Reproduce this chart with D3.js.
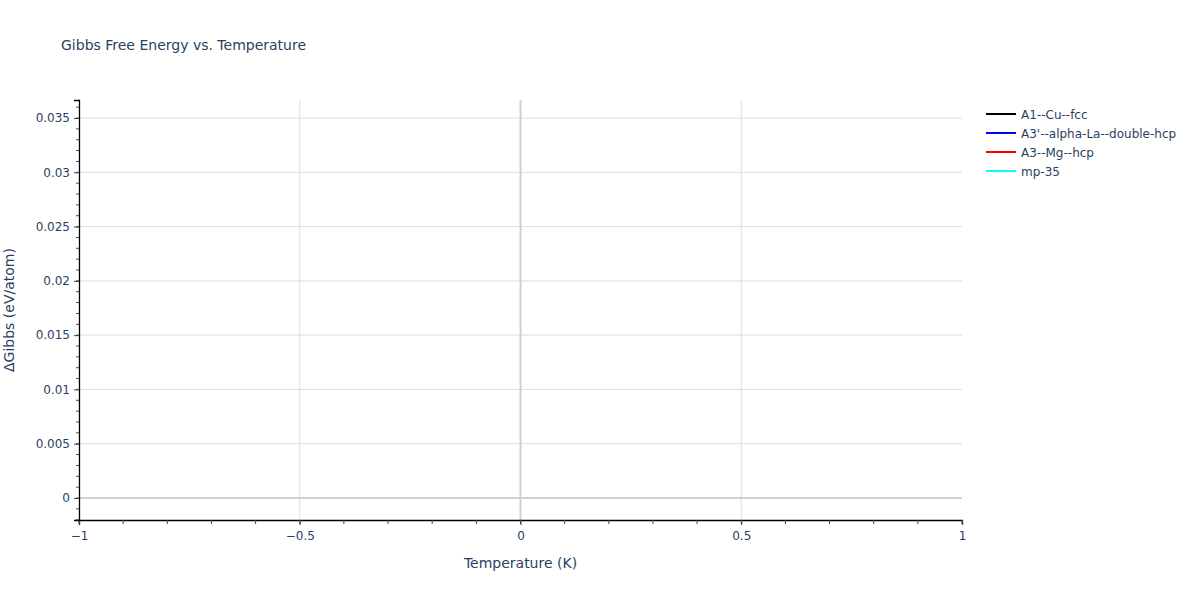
<!DOCTYPE html>
<html>
<head>
<meta charset="utf-8">
<script src="https://cdn.jsdelivr.net/npm/d3@7"></script>
<style>
  body { margin: 0; background: #fff; }
  text { font-family: "DejaVu Sans", verdana, arial, sans-serif; }
</style>
</head>
<body>
<div id="chart"></div>
<script>
// series names + colours (legend order)
var seriesNames = ["A1--Cu--fcc", "A3'--alpha-La--double-hcp", "A3--Mg--hcp", "mp-35"];
var seriesColors = ["#000000", "#0000ff", "#ff0000", "#00ffff"];
// each series only has the single point at T = 0
var temps = [[0], [0], [0], [0]];
var gibbs = [[0], [0], [0], [0]];

var xTicks = [-1, -0.5, 0, 0.5, 1];
var yTicks = [0, 0.005, 0.01, 0.015, 0.02, 0.025, 0.03, 0.035];

var W = 1200, H = 600;
var margin = {left: 79, right: 238, top: 100, bottom: 80};
var pw = W - margin.left - margin.right;
var ph = H - margin.top - margin.bottom;

var svg = d3.select("#chart").append("svg")
  .attr("width", W).attr("height", H);

var x = d3.scaleLinear().domain([-1, 1]).range([0, pw]);
var y = d3.scaleLinear().domain([-0.002026, 0.03666]).range([ph, 0]);

var g = svg.append("g").attr("transform", "translate(" + margin.left + "," + margin.top + ")");

// grid
g.selectAll(".xgrid").data(xTicks.filter(function(d){ return d !== 0 && Math.abs(d) !== 1; }))
  .enter().append("line")
  .attr("x1", function(d){ return x(d); }).attr("x2", function(d){ return x(d); })
  .attr("y1", 0).attr("y2", ph)
  .attr("stroke", "#dedede").attr("stroke-width", 1);
g.selectAll(".ygrid").data(yTicks.filter(function(d){ return d !== 0; }))
  .enter().append("line")
  .attr("x1", 0).attr("x2", pw)
  .attr("y1", function(d){ return y(d); }).attr("y2", function(d){ return y(d); })
  .attr("stroke", "#dedede").attr("stroke-width", 1);

// zero lines
g.append("line").attr("x1", x(0)).attr("x2", x(0)).attr("y1", 0).attr("y2", ph)
  .attr("stroke", "#d0d0d0").attr("stroke-width", 2);
g.append("line").attr("x1", 0).attr("x2", pw).attr("y1", y(0)).attr("y2", y(0))
  .attr("stroke", "#d0d0d0").attr("stroke-width", 2);

// series
var line = d3.line().x(function(d){ return x(d[0]); }).y(function(d){ return y(d[1]); });
seriesNames.forEach(function(name, i){
  var pts = temps[i].map(function(t, j){ return [t, gibbs[i][j]]; });
  g.append("path").datum(pts).attr("d", line)
    .attr("fill", "none").attr("stroke", seriesColors[i]).attr("stroke-width", 2);
});

// minor ticks
var xMinor = d3.range(-10, 11).map(function(d){ return d / 10; });
var yMinor = d3.range(-2, 37).map(function(d){ return d / 1000; });

var xAxis = g.append("g").attr("transform", "translate(0," + ph + ")")
  .call(d3.axisBottom(x).tickValues(xTicks).tickSize(5).tickPadding(6)
    .tickFormat(function(d){ return d === 0 ? "0" : d3.format("")(d).replace("-", "\u2212"); }));
xAxis.selectAll(".minor").data(xMinor).enter().append("line")
  .attr("x1", function(d){ return x(d); }).attr("x2", function(d){ return x(d); })
  .attr("y1", 0).attr("y2", 4).attr("stroke", "#444");

var yAxis = g.append("g")
  .call(d3.axisLeft(y).tickValues(yTicks).tickSize(5).tickPadding(4)
    .tickFormat(function(d){ return d === 0 ? "0" : d3.format("")(+d.toFixed(3)); }));
yAxis.selectAll(".minor").data(yMinor).enter().append("line")
  .attr("x1", 0).attr("x2", -3)
  .attr("y1", function(d){ return y(d); }).attr("y2", function(d){ return y(d); })
  .attr("stroke", "#444");

[xAxis, yAxis].forEach(function(a){
  a.select(".domain").attr("stroke", "#000").attr("stroke-width", 1.3);
  a.selectAll(".tick line").attr("stroke", "#444");
  a.selectAll(".tick text").attr("fill", "#2a3f5f").style("font-size", "12px");
});

// titles
svg.append("text").attr("x", 61).attr("y", 50)
  .attr("fill", "#2a3f5f").style("font-size", "14px")
  .text("Gibbs Free Energy vs. Temperature");
svg.append("text").attr("x", margin.left + pw / 2).attr("y", 568)
  .attr("text-anchor", "middle").attr("fill", "#2a3f5f").style("font-size", "14px")
  .text("Temperature (K)");
svg.append("text")
  .attr("transform", "translate(14," + (margin.top + ph / 2) + ") rotate(-90)")
  .attr("text-anchor", "middle").attr("fill", "#2a3f5f").style("font-size", "14px")
  .text("\u0394Gibbs (eV/atom)");

// legend
var leg = svg.append("g").attr("transform", "translate(986,114)");
seriesNames.forEach(function(name, i){
  var row = leg.append("g").attr("transform", "translate(0," + (i * 19) + ")");
  row.append("line").attr("x1", 0).attr("x2", 30).attr("y1", 0).attr("y2", 0)
    .attr("stroke", seriesColors[i]).attr("stroke-width", 2);
  row.append("text").attr("x", 35).attr("y", 4.5)
    .attr("fill", "#2a3f5f").style("font-size", "12px").text(name);
});
</script>
</body>
</html>
